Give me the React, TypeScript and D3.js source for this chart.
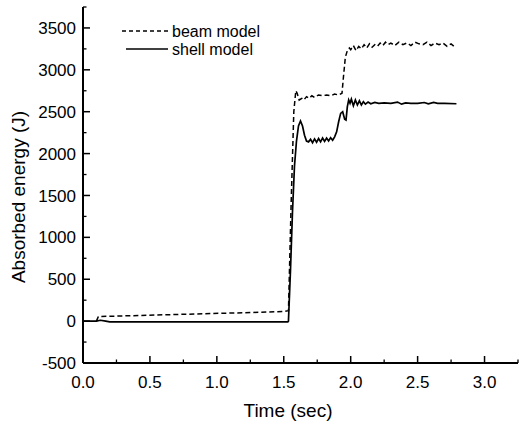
import React from "react";
import * as d3 from "d3";

const beamT = [0.10, 0.115, 0.3, 0.6, 0.9, 1.2, 1.5, 1.535, 1.555, 1.575, 1.59, 1.60, 1.615, 1.635, 1.65, 1.67, 1.69, 1.71, 1.73, 1.76, 1.79, 1.82, 1.85, 1.88, 1.91, 1.935, 1.945, 1.96, 1.975, 1.99, 2.0, 2.02, 2.04, 2.06, 2.08, 2.10, 2.12, 2.14, 2.16, 2.18, 2.20, 2.22, 2.24, 2.26, 2.28, 2.30, 2.33, 2.36, 2.39, 2.42, 2.45, 2.48, 2.51, 2.54, 2.57, 2.60, 2.63, 2.66, 2.69, 2.72, 2.75, 2.78];
const beamE = [0, 55, 62, 75, 88, 100, 115, 125, 1400, 2500, 2750, 2720, 2640, 2660, 2640, 2680, 2660, 2690, 2670, 2700, 2690, 2700, 2690, 2710, 2700, 2720, 2900, 3150, 3230, 3260, 3240, 3290, 3230, 3280, 3250, 3300, 3260, 3310, 3270, 3300, 3280, 3320, 3290, 3330, 3300, 3320, 3290, 3330, 3300, 3320, 3290, 3330, 3310, 3300, 3330, 3290, 3320, 3300, 3320, 3280, 3310, 3270];

const shellT = [0, 0.10, 0.13, 0.17, 0.2, 1.53, 1.535, 1.55, 1.565, 1.58, 1.595, 1.61, 1.625, 1.64, 1.655, 1.67, 1.685, 1.70, 1.715, 1.73, 1.745, 1.76, 1.775, 1.79, 1.805, 1.82, 1.835, 1.85, 1.865, 1.88, 1.895, 1.91, 1.925, 1.94, 1.955, 1.965, 1.975, 1.985, 1.995, 2.005, 2.02, 2.035, 2.05, 2.065, 2.08, 2.095, 2.11, 2.13, 2.15, 2.18, 2.21, 2.25, 2.3, 2.35, 2.38, 2.41, 2.45, 2.5, 2.55, 2.58, 2.62, 2.65, 2.7, 2.79];
const shellE = [0, 0, 10, 0, -10, -10, 0, 600, 1300, 1850, 2150, 2330, 2390, 2330, 2220, 2150, 2140, 2170, 2130, 2175, 2135, 2180, 2140, 2185, 2145, 2185, 2150, 2190, 2160, 2200, 2260, 2380, 2480, 2500, 2410, 2400, 2560, 2640, 2600, 2650, 2570, 2640, 2580, 2630, 2580, 2620, 2590, 2615, 2595, 2610, 2600, 2605, 2600, 2615, 2590, 2605, 2600, 2600, 2610, 2595, 2610, 2600, 2600, 2595];

const xMajor = [0, 0.5, 1.0, 1.5, 2.0, 2.5, 3.0];
const xMinor = [0.25, 0.75, 1.25, 1.75, 2.25, 2.75, 3.25];
const yMajor = [-500, 0, 500, 1000, 1500, 2000, 2500, 3000, 3500];
const yMinor = [-250, 250, 750, 1250, 1750, 2250, 2750, 3250, 3750];

const seriesNames = ["beam model", "shell model"];

export default function App() {
  const W = 519, H = 427;
  const x = d3.scaleLinear().domain([0, 3.25]).range([83, 518]);
  const y = d3.scaleLinear().domain([-500, 3750]).range([363, 7]);
  const line = d3.line<[number, number]>().x(d => x(d[0])).y(d => y(d[1]));
  const beam = line(beamT.map((t, i) => [t, beamE[i]] as [number, number])) || "";
  const shell = line(shellT.map((t, i) => [t, shellE[i]] as [number, number])) || "";
  const font = "Arial, 'Liberation Sans', sans-serif";
  return (
    <svg width={W} height={H} style={{ position: "absolute", left: 0, top: 0, background: "#fff" }} fontFamily={font}>
      <rect width={W} height={H} fill="#fff" />
      <path d={shell} fill="none" stroke="#000" strokeWidth={1.7} />
      <path d={beam} fill="none" stroke="#000" strokeWidth={1.5} strokeDasharray="5,3" />
      {/* axes */}
      <line x1={x(0)} x2={x(0)} y1={y(3750)} y2={y(-500)} stroke="#000" strokeWidth={2} />
      <line x1={x(0)} x2={x(3.25)} y1={y(-500)} y2={y(-500)} stroke="#000" strokeWidth={2} />
      {yMajor.map(v => (
        <g key={"ym" + v}>
          <line x1={x(0)} x2={x(0) + 7} y1={y(v)} y2={y(v)} stroke="#000" strokeWidth={1.5} />
          <text x={76} y={y(v)} dy="0.36em" textAnchor="end" fontSize={17}>{v}</text>
        </g>
      ))}
      {yMinor.map(v => (
        <line key={"yn" + v} x1={x(0)} x2={x(0) + 3.5} y1={y(v)} y2={y(v)} stroke="#000" strokeWidth={1.3} />
      ))}
      {xMajor.map(v => (
        <g key={"xm" + v}>
          <line x1={x(v)} x2={x(v)} y1={y(-500)} y2={y(-500) - 7} stroke="#000" strokeWidth={1.5} />
          <text x={x(v)} y={388} textAnchor="middle" fontSize={17}>{v.toFixed(1)}</text>
        </g>
      ))}
      {xMinor.map(v => (
        <line key={"xn" + v} x1={x(v)} x2={x(v)} y1={y(-500)} y2={y(-500) - 3.5} stroke="#000" strokeWidth={1.3} />
      ))}
      <text x={288} y={417} textAnchor="middle" fontSize={19}>Time (sec)</text>
      <text transform={`translate(25,197) rotate(-90)`} textAnchor="middle" fontSize={19}>Absorbed energy (J)</text>
      {/* legend */}
      <line x1={122} x2={168} y1={31} y2={31} stroke="#000" strokeWidth={1.3} strokeDasharray="4,3" />
      <text x={172} y={31} dy="0.35em" fontSize={16}>{seriesNames[0]}</text>
      <line x1={126} x2={168} y1={49} y2={49} stroke="#000" strokeWidth={1.4} />
      <text x={172} y={49} dy="0.35em" fontSize={16}>{seriesNames[1]}</text>
    </svg>
  );
}
